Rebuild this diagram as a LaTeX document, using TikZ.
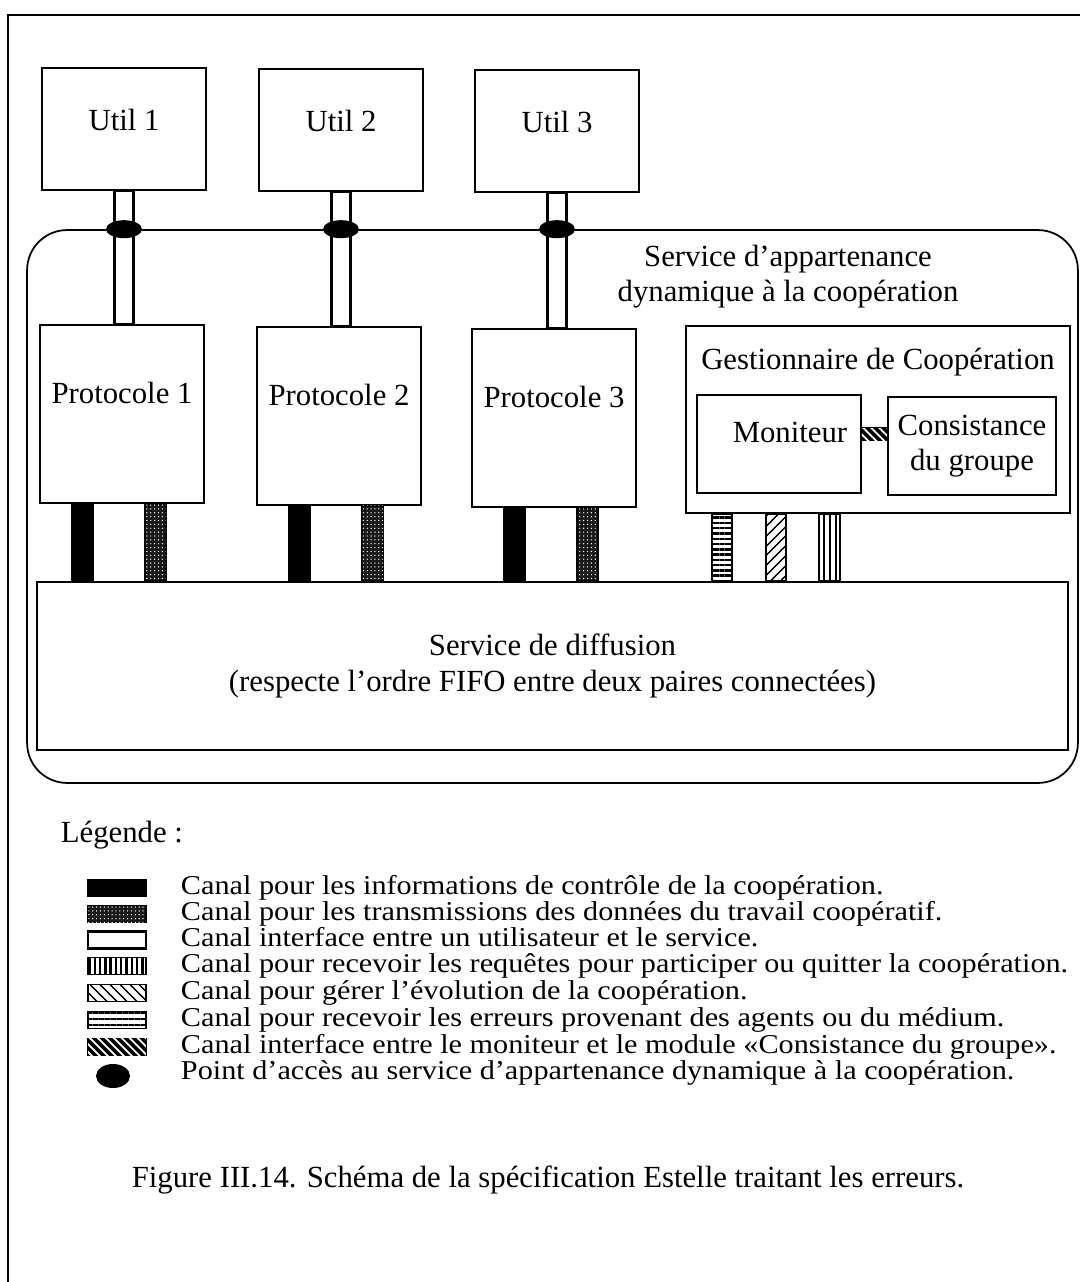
\documentclass[tikz,border=0pt]{standalone}
\usepackage{fontspec}
\setmainfont{Liberation Serif}
\usetikzlibrary{calc,patterns,patterns.meta,shapes.geometric}

\begin{document}
\begin{tikzpicture}[x=0.02cm,y=-0.02cm,line width=1pt,
  font=\fontsize{17.5}{20}\selectfont,
  box/.style={draw,inner sep=0pt},
  util/.style={box,minimum width=3.28cm,minimum height=2.44cm,label={[yshift=0.18cm]center:#1}},
  proto/.style={box,minimum width=3.28cm,minimum height=3.56cm,label={[yshift=0.42cm]center:#1}},
  acces/.style={ellipse,fill=black,inner sep=0pt,minimum width=0.72cm,minimum height=0.36cm},
  icone/.style={inner sep=0pt,minimum width=1.16cm,minimum height=0.34cm},
  legtxt/.style={anchor=base west,inner sep=0pt,xscale=1.11,font=\fontsize{15.5}{18}\selectfont},
  chnoir/.style={draw,fill=black},
  chdonnees/.style={draw,fill=black!90,postaction={pattern={Dots[distance=2.2pt,radius=0.4pt]},pattern color=white}},
  chiface/.style={draw,fill=white,line width=1.6pt},
  chreq/.style={draw,pattern={Lines[angle=#1,distance=3pt,line width=1.4pt]}},
  chreq/.default=0,
  chevol/.style={draw,pattern={Lines[angle=#1,distance=4pt,line width=0.9pt]}},
  chevol/.default=45,
  cherr/.style={draw,pattern={Lines[angle=#1,distance=3.4pt,line width=1pt]}},
  cherr/.default=90,
  chcons/.style={draw,fill=black,postaction={pattern={Lines[angle=-45,distance=3.2pt,line width=1pt]},pattern color=white}}]
\useasboundingbox (0,0) rectangle (1080,1282);
\draw (8,1282) -- (8,15) -- (1080,15);

% utilisateurs
\node[util=Util 1] (u1) at (124,129) {};
\node[util=Util 2] (u2) at (341,130) {};
\node[util=Util 3] (u3) at (557,131) {};

% service d'appartenance
\node[draw,rounded corners=0.8cm,minimum width=21.02cm,minimum height=11.06cm] (sadc) at (552.5,506.5) {};
\node[align=center] (titre) at (788,277) {Service d’appartenance\\dynamique à la coopération};

\node[proto=Protocole 1] (p1) at (122,414) {};
\node[proto=Protocole 2] (p2) at (339,416) {};
\node[proto=Protocole 3] (p3) at (554,418) {};

\node[box,minimum width=7.68cm,minimum height=3.74cm,label={[yshift=1.14cm]center:Gestionnaire de Coopération}] (gest) at (878,419.5) {};
\node[box,minimum width=3.28cm,minimum height=1.96cm,label={[xshift=0.22cm,yshift=0.24cm]center:Moniteur}] (mon) at (779,444) {};
\node[box,minimum width=3.36cm,minimum height=1.96cm,align=center] (cons) at (972,446) {Consistance\\du groupe};

\node[box,minimum width=20.62cm,minimum height=3.36cm,align=center] (diff) at (552.5,666) {Service de diffusion\\(respecte l’ordre FIFO entre deux paires connectées)};

% canaux
\foreach \u/\p in {u1/p1,u2/p2,u3/p3}{
  \draw[chiface] ($(\u.south)+(-9.5,0)$) rectangle ($(\u.south |- \p.north)+(9.5,0)$);
  \node[acces] at (\u.south |- sadc.north) {};
  \draw[chnoir] ($(\p.south west)+(33,0)$) rectangle ($(\p.south west |- diff.north)+(54,0)$);
  \draw[chdonnees] ($(\p.south west)+(106,0)$) rectangle ($(\p.south west |- diff.north)+(127,0)$);
}
\draw[chreq] ($(gest.south west)+(27,0)$) rectangle ($(gest.south west |- diff.north)+(47,0)$);
\draw[chevol] ($(gest.south west)+(81,0)$) rectangle ($(gest.south west |- diff.north)+(101,0)$);
\draw[cherr] ($(gest.south west)+(134,0)$) rectangle ($(gest.south west |- diff.north)+(155,0)$);
\draw[chcons] ($(mon.east)+(0,-16)$) rectangle ($(cons.west |- mon.east)+(0,-4)$);

% legende
\node[anchor=west,inner sep=0pt] (leg) at (60,835) {Légende :};
\node[icone,chnoir] (l1) at (117,888) {};
\node[legtxt] (t1) at (180,894) {Canal pour les informations de contrôle de la coopération.};
\node[icone,chdonnees] (l2) at (117,914) {};
\node[legtxt] (t2) at (180,920) {Canal pour les transmissions des données du travail coopératif.};
\node[icone,chiface] (l3) at (117,940) {};
\node[legtxt] (t3) at (180,946) {Canal interface entre un utilisateur et le service.};
\node[icone,chreq=90] (l4) at (117,966) {};
\node[legtxt] (t4) at (180,972.5) {Canal pour recevoir les requêtes pour participer ou quitter la coopération.};
\node[icone,chevol=-45] (l5) at (117,993) {};
\node[legtxt] (t5) at (180,999) {Canal pour gérer l’évolution de la coopération.};
\node[icone,cherr=0] (l6) at (117,1020) {};
\node[legtxt] (t6) at (180,1026) {Canal pour recevoir les erreurs provenant des agents ou du médium.};
\node[icone,chcons] (l7) at (117,1047) {};
\node[legtxt] (t7) at (180,1053) {Canal interface entre le moniteur et le module «Consistance du groupe».};
\node[acces,minimum width=0.68cm,minimum height=0.48cm] (l8) at (113,1076) {};
\node[legtxt] (t8) at (180,1079) {Point d’accès au service d’appartenance dynamique à la coopération.};

\node (legende) at (548,1180) {Figure III.14. Schéma de la spécification Estelle traitant les erreurs.};
\end{tikzpicture}
\end{document}
